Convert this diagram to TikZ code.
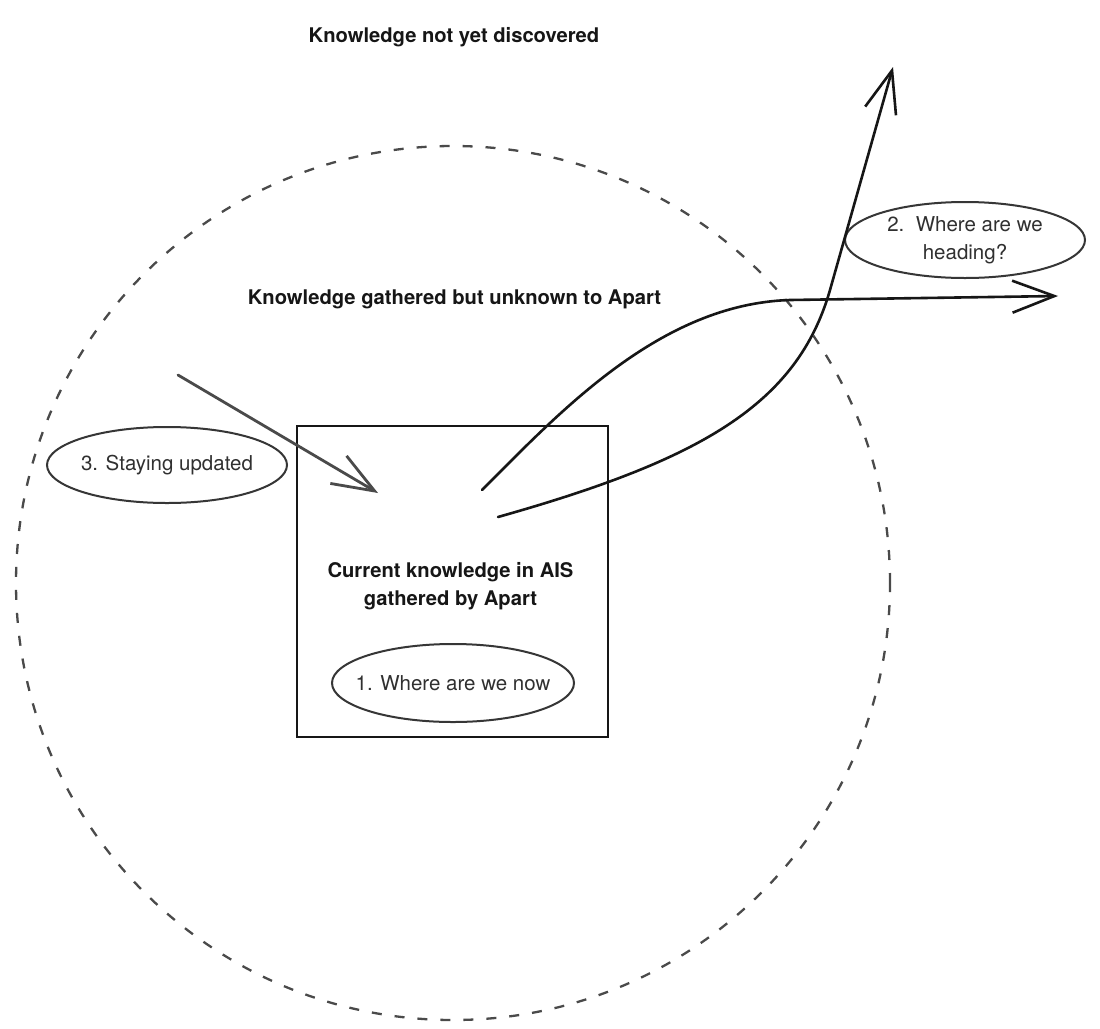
\documentclass[tikz,border=0pt]{standalone}
\usepackage{fontspec}
\setmainfont{TeX Gyre Heros}
\usetikzlibrary{shapes.geometric,arrows.meta}
\definecolor{ink}{HTML}{161616}
\definecolor{pencil}{HTML}{4A4A4A}
\definecolor{oval}{HTML}{363636}
\definecolor{ovaltext}{HTML}{303030}
\begin{document}
\begin{tikzpicture}[x=1pt,y=-1pt,
  headline/.style={font=\fontsize{20.2}{28}\selectfont\bfseries, text=ink, inner sep=0pt},
  qtext/.style={font=\fontsize{20.5}{28}\selectfont, text=ovaltext, align=center, inner sep=0pt},
  question/.style={ellipse, draw=oval, line width=2pt, inner sep=0pt,
    minimum width=240pt, minimum height=76pt, label={[qtext]center:{#1}}},
  sketcharrow/.style={draw=ink, line width=2.6pt, line cap=round, line join=round,
    -{Straight Barb[length=42pt,width=32pt]}}
]
\fill[white] (0,0) rectangle (1100,1028);
\useasboundingbox (0,0) rectangle (1100,1028);
\node[circle, draw=pencil, line width=2.3pt, dash pattern=on 10pt off 13pt,
  minimum size=874pt, inner sep=0pt] (domain) at (453,583) {};
\node[draw=ink, line width=2.7pt, minimum width=311pt, minimum height=311pt,
  inner sep=0pt] (box) at (452.5,581.5) {};
\node[headline, anchor=base] (outer) at (454,42) {Knowledge not yet discovered};
\node[headline, anchor=base] (middle) at (454.5,304) {Knowledge gathered but unknown to Apart};
\node[headline, align=center] (inner) at (450.5,586) {Current knowledge in AIS\\gathered by Apart};
\node[question={1. Where are we now}, minimum width=242pt, minimum height=78pt] (q1) at (453,683) {};
\node[question={2.~~Where are we\\heading?}] (q2) at (965,240) {};
\node[question={3. Staying updated}] (q3) at (167,465) {};
\coordinate (s3) at (178,375);
\coordinate (t3) at (378,493);
\coordinate (sA) at (482,490);
\coordinate (tA) at (1058,296);
\coordinate (sB) at (498,517);
\coordinate (tB) at (893,67);
\draw[sketcharrow, draw=pencil, line width=2.8pt] (s3) -- (t3);
\draw[sketcharrow] (sA) .. controls (560,412) and (660,304) .. (790,300) -- (tA);
\draw[sketcharrow] (sB) .. controls (700,460) and (797,405) .. (830,290) -- (tB);
\end{tikzpicture}
\end{document}
